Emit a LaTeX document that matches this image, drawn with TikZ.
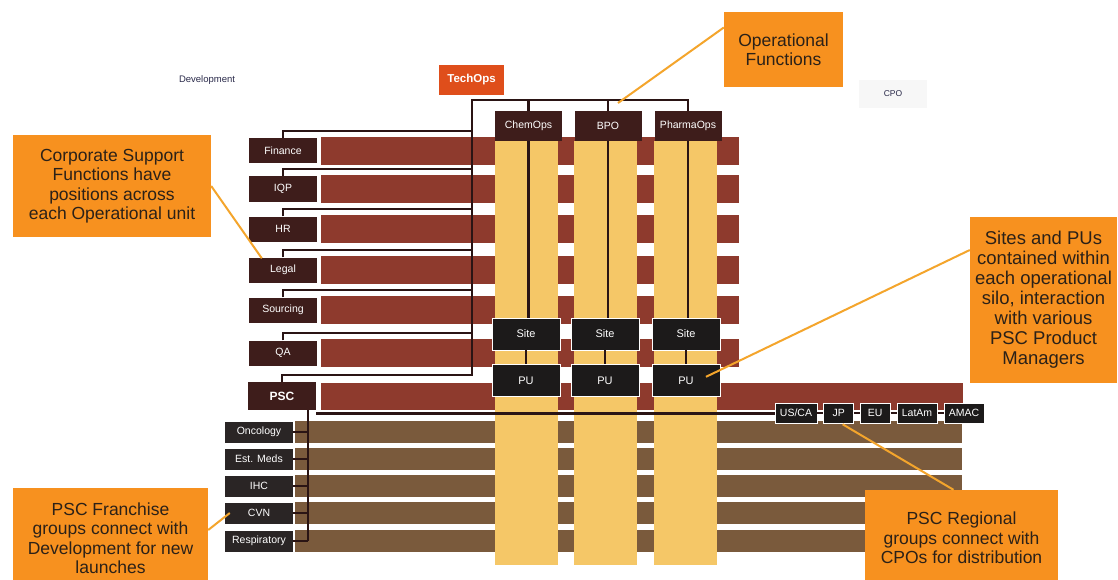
\documentclass[tikz,border=0pt]{standalone}
\usepackage{fontspec}
\setmainfont{Liberation Sans}
\usetikzlibrary{positioning}

\definecolor{boxmaroon}{HTML}{3E1D1B}
\definecolor{barred}{HTML}{8E3A2D}
\definecolor{siloyellow}{HTML}{F5C767}
\definecolor{barbrown}{HTML}{7A5A3C}
\definecolor{frgray}{HTML}{2A2525}
\definecolor{unitblack}{HTML}{1C1A1A}
\definecolor{calloutorange}{HTML}{F7911F}
\definecolor{callouttext}{HTML}{2B2118}
\definecolor{pointergold}{HTML}{F4A52C}
\definecolor{techorange}{HTML}{DF4E1B}
\definecolor{linkdark}{HTML}{2A1414}
\definecolor{devblue}{HTML}{2A2A4A}

\begin{document}
\begin{tikzpicture}[x=1pt,y=-1pt,
fnbox/.style={fill=boxmaroon,text=white,minimum width=68pt,minimum height=25pt,inner sep=0pt,font=\fontsize{10.5}{12}\selectfont},
opbox/.style={fnbox,minimum width=67pt,minimum height=30pt},
techbox/.style={fill=techorange,text=white,minimum width=65pt,minimum height=30pt,inner sep=0pt,font=\bfseries\fontsize{11.5}{13}\selectfont},
unitbox/.style={fill=unitblack,draw=white,line width=0.8pt,text=white,minimum width=68pt,minimum height=32pt,inner sep=0pt,font=\fontsize{11}{13}\selectfont},
frbox/.style={fill=frgray,text=white,minimum width=68pt,minimum height=21pt,inner sep=0pt,font=\fontsize{10.5}{12}\selectfont},
regbox/.style={fill=unitblack,draw=white,line width=0.6pt,text=white,minimum width=30pt,minimum height=20pt,inner xsep=5pt,inner ysep=0pt,font=\fontsize{10.5}{12}\selectfont},
callout/.style={fill=calloutorange,text=callouttext,align=center,inner sep=0pt,font=\fontsize{17.5}{19.5}\selectfont},
tag/.style={text=devblue,inner sep=1pt},
redbar/.style={fill=barred},
brownbar/.style={fill=barbrown},
silo/.style={fill=siloyellow},
link/.style={draw=linkdark,line width=2.2pt},
pointer/.style={draw=pointergold,line width=2pt},
node distance=6pt]
\fill[white] (0,0) rectangle (1118,580);
\useasboundingbox (0,0) rectangle (1118,580);

% bars behind the silos
\foreach \y in {151,189,229,270,310,353}
  \fill[redbar] (321,{\y-14}) rectangle (739,{\y+14});
\fill[redbar] (321,383) rectangle (963,410);
\foreach \y in {432,459,486,513,541}
  \fill[brownbar] (295,{\y-11}) rectangle (962,{\y+11});
\foreach \x in {495,574,654}
  \fill[silo] (\x,141) rectangle ++(63,424);

% corporate support functions
\foreach \n/\lbl/\y in {fin/Finance/151,iqp/IQP/189,hr/HR/229,legal/Legal/270,src/Sourcing/310,qa/QA/353}
  \node[fnbox] (\n) at (283,\y) {\lbl};
\node[fnbox,minimum height=28pt,font=\bfseries\fontsize{12}{14}\selectfont] (psc) at (282,396) {PSC};

% operational functions
\node[techbox] (techops) at (471.5,80) {TechOps};
\node[opbox] (chemops) at (528.5,126) {ChemOps};
\node[opbox] (bpo) at (608,126) {BPO};
\node[opbox] (pharmaops) at (688,126) {PharmaOps};
\foreach \n/\x in {1/526,2/605,3/686}{
  \node[unitbox] (site\n) at (\x,334) {Site};
  \node[unitbox,below=14pt of site\n] (pu\n) {PU};
}

% franchises and regions
\foreach \n/\lbl/\y in {onc/Oncology/432,est/Est. Meds/459,ihc/IHC/486,cvn/CVN/513,resp/Respiratory/541}
  \node[frbox] (\n) at (259,\y) {\lbl};
\node[regbox] (usca) at (796,413) {US/CA};
\node[regbox,right=of usca] (jp) {JP};
\node[regbox,right=of jp] (eu) {EU};
\node[regbox,right=of eu] (latam) {LatAm};
\node[regbox,right=of latam] (amac) {AMAC};

\node[tag,font=\fontsize{9.5}{11}\selectfont] (dev) at (207,80) {Development};
\node[tag,fill=black!3,minimum width=68pt,minimum height=28pt,font=\fontsize{8.5}{10}\selectfont] (cpo) at (893,94) {CPO};

% callouts
\node[callout,minimum width=119pt,minimum height=75pt] (opcall) at (783.5,49.5) {Operational\\Functions};
\node[callout,minimum width=198pt,minimum height=102pt] (corpcall) at (112,186) {Corporate Support\\Functions have\\positions across\\each Operational unit};
\node[callout,minimum width=147pt,minimum height=166pt,font=\fontsize{18.5}{20}\selectfont] (unitcall) at (1043.5,300) {Sites and PUs\\contained within\\each operational\\silo, interaction\\with various\\PSC Product\\Managers};
\node[callout,minimum width=195pt,minimum height=100pt] (frcall) at (110.5,538) {PSC Franchise\\groups connect with\\Development for new\\launches};
\node[callout,minimum width=193pt,minimum height=96pt] (regcall) at (961.5,538) {PSC Regional\\groups connect with\\CPOs for distribution};

% connectors
\coordinate (trunktop) at (472,100);
\coordinate (trunkbot) at (472,375);
\draw[link] (trunkbot) -- (trunktop) -| (pharmaops.north);
\foreach \n in {chemops,bpo}
  \draw[link] (\n.north) -- (\n.north |- trunktop);
\foreach \n in {fin,iqp,hr,legal,src,qa,psc}
  \draw[link] (\n.north) -- ++(0,-7) -| (trunktop);
\foreach \n/\m in {1/chemops,2/bpo,3/pharmaops}{
  \draw[link] (\m.south) -- (\m.south |- site\n.north);
  \draw[link] (site\n.south) -- (pu\n.north);
}
\coordinate (frtop) at (308,410);
\draw[link] (frtop) -- (frtop |- resp.east);
\foreach \n in {onc,est,ihc,cvn,resp}
  \draw[link] (\n.east) -- (\n.east -| frtop);
\draw[link,line width=3pt] (psc.east |- usca.west) -- (usca.west);
\foreach \a/\b in {usca/jp,jp/eu,eu/latam,latam/amac}
  \draw[link] (\a.east) -- (\b.west);

% callout pointers
\coordinate (bpotick) at (bpo.north |- trunktop);
\draw[pointer] ([yshift=22pt]opcall.west) -- ([xshift=10pt,yshift=-3pt]bpotick);
\draw[pointer] (corpcall.east) -- ([xshift=13pt,yshift=-1pt]legal.north west);
\draw[pointer] ([yshift=50pt]unitcall.west) -- ([xshift=20pt,yshift=4pt]pu3.center);
\draw[pointer] ([yshift=8pt]frcall.east) -- ([xshift=5pt]cvn.west);
\draw[pointer] ([xshift=-8pt]regcall.north) -- ([xshift=4pt,yshift=-1pt]jp.south);
\end{tikzpicture}
\end{document}
